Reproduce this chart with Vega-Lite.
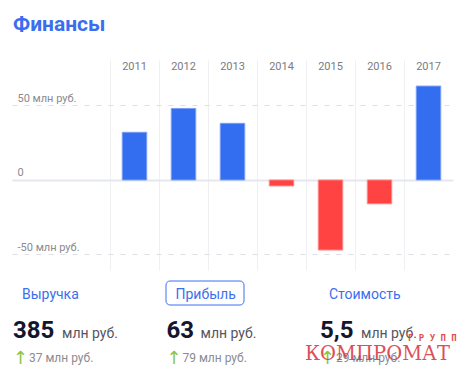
{
  "$schema": "https://vega.github.io/schema/vega-lite/v6.json",
  "background": "white",
  "padding": {"left": 12, "top": 14, "right": 0, "bottom": 0},
  "bounds": "flush",
  "spacing": 0,
  "title": {
    "text": "Финансы",
    "anchor": "start",
    "font": "Roboto",
    "fontSize": 21,
    "fontWeight": "bold",
    "color": "#3a6df0",
    "baseline": "alphabetic",
    "offset": 8,
    "dx": 1
  },
  "config": {"view": {"stroke": null}},
  "vconcat": [
    {
      "width": 441,
      "height": 210,
      "data": {
        "values": [
          {"year": "2011", "value": 32},
          {"year": "2012", "value": 48},
          {"year": "2013", "value": 38},
          {"year": "2014", "value": -4},
          {"year": "2015", "value": -47},
          {"year": "2016", "value": -16},
          {"year": "2017", "value": 63}
        ]
      },
      "mark": {"type": "bar", "width": {"band": 0.5}, "strokeWidth": 1},
      "encoding": {
        "x": {
          "field": "year",
          "type": "nominal",
          "sort": null,
          "scale": {"paddingInner": 0, "paddingOuter": 1.1255, "align": 1},
          "axis": {
            "orient": "top",
            "title": null,
            "domain": false,
            "ticks": false,
            "tickSize": 0,
            "labelPadding": -9,
            "labelBaseline": "alphabetic",
            "labelAngle": 0,
            "labelFont": "Roboto",
            "labelFontSize": 11,
            "labelColor": "#7b7b82",
            "grid": true,
            "gridColor": "#eef0f4",
            "gridWidth": 1,
            "bandPosition": 0
          }
        },
        "y": {
          "field": "value",
          "type": "quantitative",
          "scale": {"domain": [-60.4, 80.5], "nice": false, "zero": false},
          "axis": {
            "title": null,
            "domain": false,
            "ticks": false,
            "tickSize": 0,
            "values": [-50, 0, 50],
            "labelExpr": "datum.value == 0 ? '0' : datum.value + ' млн руб.'",
            "labelAlign": "left",
            "labelPadding": -5,
            "labelBaseline": "alphabetic",
            "labelOffset": -4,
            "labelFont": "Roboto",
            "labelFontSize": 11,
            "labelColor": "#8a8a90",
            "gridColor": {"condition": {"test": "datum.value === 0", "value": "#e4e7ee"}, "value": "#dcdfe4"},
            "gridDash": {"condition": {"test": "datum.value === 0", "value": []}, "value": [5, 7]},
            "gridWidth": {"condition": {"test": "datum.value === 0", "value": 2}, "value": 1}
          }
        },
        "color": {"condition": {"test": "datum.value > 0", "value": "#346ef0"}, "value": "#ff4242"},
        "stroke": {"condition": {"test": "datum.value > 0", "value": "#7a9ff5"}, "value": "#ff8a8a"}
      }
    },
    {
      "width": 441,
      "height": 110,
      "data": {
        "values": [
          {"metric": "Выручка", "value": "385", "change": "37 млн руб."},
          {"metric": "Прибыль", "value": "63", "change": "79 млн руб."},
          {"metric": "Стоимость", "value": "5,5", "change": "29 млн руб."}
        ]
      },
      "encoding": {
        "x": {
          "field": "metric",
          "type": "nominal",
          "scale": {"type": "point", "domain": ["Выручка", "Прибыль", "Стоимость"], "range": [1, 308], "padding": 0},
          "axis": null
        }
      },
      "layer": [
        {
          "transform": [{"filter": "datum.metric === 'Прибыль'"}],
          "mark": {"type": "rect", "width": 78, "height": 24, "cornerRadius": 4, "fill": "white", "stroke": "#3c6ef0", "strokeWidth": 1, "xOffset": 38.5, "yOffset": -6},
          "encoding": {
            "y": {"datum": "metric", "type": "nominal", "scale": {"type": "point", "domain": ["metric", "value", "change"], "range": [29, 92], "padding": 0}, "axis": null}
          }
        },
        {
          "mark": {"type": "text", "align": "left", "baseline": "alphabetic", "dx": 9, "font": "Roboto", "fontSize": 14, "color": "#3c6ef0"},
          "encoding": {
            "y": {"datum": "metric", "type": "nominal"},
            "text": {"field": "metric"}
          }
        },
        {
          "mark": {"type": "text", "align": "left", "baseline": "alphabetic", "dy": 7.5, "font": "Roboto", "fontSize": 24, "fontWeight": "bold", "color": "#14162e"},
          "encoding": {
            "y": {"datum": "value", "type": "nominal"},
            "text": {"field": "value"}
          }
        },
        {
          "transform": [{"filter": "datum.metric === 'Выручка'"}],
          "mark": {"type": "text", "align": "left", "baseline": "alphabetic", "dy": 7.5, "dx": 49, "font": "Roboto", "fontSize": 14, "color": "#55555f", "text": "млн руб."},
          "encoding": {"y": {"datum": "value", "type": "nominal"}}
        },
        {
          "transform": [{"filter": "datum.metric === 'Прибыль'"}],
          "mark": {"type": "text", "align": "left", "baseline": "alphabetic", "dy": 7.5, "dx": 34, "font": "Roboto", "fontSize": 14, "color": "#55555f", "text": "млн руб."},
          "encoding": {"y": {"datum": "value", "type": "nominal"}}
        },
        {
          "transform": [{"filter": "datum.metric === 'Стоимость'"}],
          "mark": {"type": "text", "align": "left", "baseline": "alphabetic", "dy": 7.5, "dx": 41, "font": "Roboto", "fontSize": 14, "color": "#55555f", "text": "млн руб."},
          "encoding": {"y": {"datum": "value", "type": "nominal"}}
        },
        {
          "mark": {"type": "text", "align": "left", "baseline": "alphabetic", "dx": 0, "dy": 2, "font": "DejaVu Sans", "fontSize": 18, "color": "#8cc63f", "text": "↑"},
          "encoding": {"y": {"datum": "change", "type": "nominal"}}
        },
        {
          "mark": {"type": "text", "align": "left", "baseline": "alphabetic", "dx": 16, "font": "Roboto", "fontSize": 12, "color": "#8b8b92"},
          "encoding": {
            "y": {"datum": "change", "type": "nominal"},
            "text": {"field": "change"}
          }
        },
        {
          "data": {"values": [{"label": "КОМПРОМАТ"}]},
          "mark": {"type": "text", "align": "left", "baseline": "alphabetic", "dx": -15, "dy": -2, "font": "DejaVu Serif", "fontSize": 19.5, "color": "#d8313a", "opacity": 0.85},
          "encoding": {
            "x": {"datum": "Стоимость", "type": "nominal"},
            "y": {"datum": "change", "type": "nominal"},
            "text": {"field": "label"}
          }
        },
        {
          "data": {"values": [{"label": "Г Р У П П"}]},
          "mark": {"type": "text", "align": "left", "baseline": "alphabetic", "dx": 88, "dy": -21, "font": "DejaVu Sans Mono", "fontSize": 9, "fontWeight": "bold", "color": "#d8313a", "opacity": 0.85},
          "encoding": {
            "x": {"datum": "Стоимость", "type": "nominal"},
            "y": {"datum": "change", "type": "nominal"},
            "text": {"field": "label"}
          }
        }
      ]
    }
  ]
}
